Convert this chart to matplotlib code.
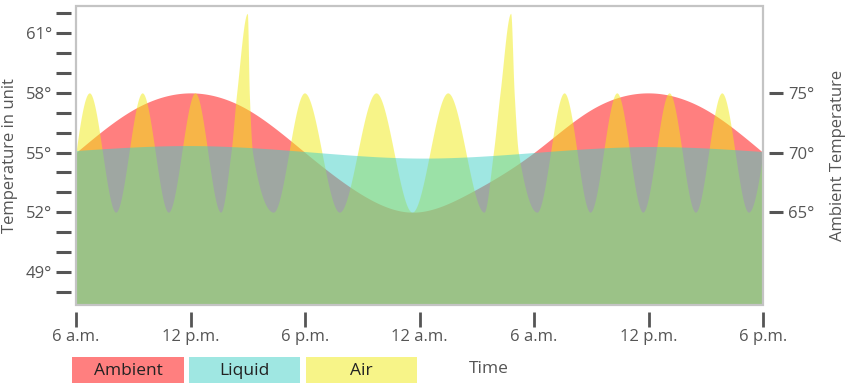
import numpy as np
import matplotlib
matplotlib.use("Agg")
import matplotlib.pyplot as plt
from matplotlib.patches import Rectangle
from matplotlib.ticker import FixedLocator, FixedFormatter, NullFormatter

plt.rcParams['font.family'] = ['Open Sans', 'DejaVu Sans']

# ---------------- data ----------------
x_tick_hours = [0, 6, 12, 18, 24, 30, 36]
x_tick_labels = ["6 a.m.", "12 p.m.", "6 p.m.", "12 a.m.", "6 a.m.", "12 p.m.", "6 p.m."]

ambient_hours = [0, 3, 6, 9, 12, 14.9, 17.6, 20.65, 24, 27, 30, 33, 36]
ambient_values = [70, 73.6, 75, 73.6, 70, 66.55, 65, 66.63, 70, 73.6, 75, 73.6, 70]

liquid_hours = [0, 6, 12, 18, 24, 30, 36]
liquid_values = [55.1, 55.35, 55.05, 54.72, 55.0, 55.3, 55.05]

air_hours = [0.00, 0.70, 2.08, 3.47, 4.84, 6.24, 7.58,
             8.12, 8.42, 8.98, 9.08, 9.25,
             10.34, 11.97, 13.80, 15.72, 17.61, 19.48, 21.38,
             21.87, 22.22, 22.78, 22.96, 23.18,
             24.15, 25.58, 26.94, 28.34, 29.70, 31.08, 32.46, 33.84, 35.24, 36.00]
air_values = [55, 58, 52, 58, 52, 58, 52,
              55, 58, 62, 58, 55,
              52, 58, 52, 58, 52, 58, 52,
              55, 58, 62, 58, 55,
              52, 58, 52, 58, 52, 58, 52, 58, 52, 55]

left_major = [49, 52, 55, 58, 61]
left_major_labels = ["49°", "52°", "55°", "58°", "61°"]
left_minor = [48, 50, 51, 53, 54, 56, 57, 59, 60, 62]
right_major = [65, 70, 75]
right_major_labels = ["65°", "70°", "75°"]

series_names = ["Ambient", "Liquid", "Air"]
ambient_color = "#ff0000"
liquid_color = "#40d0c6"
air_color = "#f1eb13"
ALPHA = 0.5


def hermite(xk, yk, m, n):
    h = np.diff(xk)
    xs = np.linspace(xk[0], xk[-1], n)
    idx = np.clip(np.searchsorted(xk, xs) - 1, 0, len(xk) - 2)
    t = (xs - xk[idx]) / h[idx]
    h00 = 2 * t**3 - 3 * t**2 + 1
    h10 = t**3 - 2 * t**2 + t
    h01 = -2 * t**3 + 3 * t**2
    h11 = t**3 - t**2
    ys = h00 * yk[idx] + h10 * h[idx] * m[idx] + h01 * yk[idx + 1] + h11 * h[idx] * m[idx + 1]
    return xs, ys


def pchip(xk, yk, n=2400):
    """Monotone cubic rendering (keeps the sharp spikes without overshoot)."""
    xk = np.asarray(xk, float)
    yk = np.asarray(yk, float)
    h = np.diff(xk)
    d = np.diff(yk) / h
    m = np.zeros_like(yk)
    for k in range(1, len(xk) - 1):
        if d[k - 1] * d[k] > 0:
            w1 = 2 * h[k] + h[k - 1]
            w2 = h[k] + 2 * h[k - 1]
            m[k] = (w1 + w2) / (w1 / d[k - 1] + w2 / d[k])

    def end(h0, h1, d0, d1):
        s = ((2 * h0 + h1) * d0 - h0 * d1) / (h0 + h1)
        if np.sign(s) != np.sign(d0):
            s = 0.0
        elif np.sign(d0) != np.sign(d1) and abs(s) > abs(3 * d0):
            s = 3 * d0
        return s

    m[0] = end(h[0], h[1], d[0], d[1])
    m[-1] = end(h[-1], h[-2], d[-1], d[-2])
    return hermite(xk, yk, m, n)


def natural_spline(xk, yk, n=2400):
    """Smooth natural cubic spline rendering."""
    xk = np.asarray(xk, float)
    yk = np.asarray(yk, float)
    N = len(xk)
    h = np.diff(xk)
    A = np.zeros((N, N))
    rhs = np.zeros(N)
    A[0, 0] = A[-1, -1] = 1.0
    for i in range(1, N - 1):
        A[i, i - 1] = h[i - 1]
        A[i, i] = 2 * (h[i - 1] + h[i])
        A[i, i + 1] = h[i]
        rhs[i] = 3 * ((yk[i + 1] - yk[i]) / h[i] - (yk[i] - yk[i - 1]) / h[i - 1])
    c = np.linalg.solve(A, rhs)
    b = (yk[1:] - yk[:-1]) / h - h * (2 * c[:-1] + c[1:]) / 3
    dd = (c[1:] - c[:-1]) / (3 * h)
    xs = np.linspace(xk[0], xk[-1], n)
    idx = np.clip(np.searchsorted(xk, xs) - 1, 0, N - 2)
    t = xs - xk[idx]
    ys = yk[idx] + b[idx] * t + c[idx] * t**2 + dd[idx] * t**3
    return xs, ys


W, H = 848, 387
fig = plt.figure(figsize=(W / 100, H / 100), dpi=100)

L, R, T, B = 76, 763, 6, 305
ax_amb = fig.add_axes([L / W, 1 - B / H, (R - L) / W, (B - T) / H])
ax = ax_amb.twinx()

left_lim = (47.33, 62.37)
right_lim = tuple(70 + (v - 55) * 5 / 3 for v in left_lim)
ax.set_ylim(*left_lim)
ax_amb.set_ylim(*right_lim)
ax_amb.set_xlim(0, 36)

# areas: ambient (bottom), air, liquid (top)
xs, ys = natural_spline(ambient_hours, ambient_values)
ax_amb.fill_between(xs, ys, right_lim[0], color=ambient_color, alpha=ALPHA, lw=0)
xs, ys = pchip(air_hours, air_values)
ax.fill_between(xs, ys, left_lim[0], color=air_color, alpha=ALPHA, lw=0)
xs, ys = natural_spline(liquid_hours, liquid_values)
ax.fill_between(xs, ys, left_lim[0], color=liquid_color, alpha=ALPHA, lw=0)

# frame
ax.add_patch(Rectangle((0, 0), 1, 1, transform=ax.transAxes, fill=False,
                       edgecolor="#c4c4c4", lw=1.6, zorder=10, clip_on=False))

for a in (ax, ax_amb):
    for s in a.spines.values():
        s.set_visible(False)

tick_col = "#555555"
text_col = "#555555"
TICK_FS = 12

# left axis (liquid / air)
ax.yaxis.tick_left()
ax.yaxis.set_label_position("left")
ax.spines['left'].set_position(('outward', 3.6))
ax.yaxis.set_major_locator(FixedLocator(left_major))
ax.yaxis.set_major_formatter(FixedFormatter(left_major_labels))
ax.yaxis.set_minor_locator(FixedLocator(left_minor))
ax.yaxis.set_minor_formatter(NullFormatter())
ax.tick_params(axis='y', which='both', length=10.8, width=2.2, color=tick_col,
               labelsize=TICK_FS, labelcolor=text_col, pad=3.0, direction='out')
ax.set_ylabel("Temperature in unit", fontsize=12, color=text_col)
ax.yaxis.set_label_coords(-0.096, 0.5)
ax.yaxis.label.set_va('center')

# right axis (ambient)
ax_amb.yaxis.tick_right()
ax_amb.yaxis.set_label_position("right")
ax_amb.spines['right'].set_position(('outward', 4.3))
ax_amb.yaxis.set_major_locator(FixedLocator(right_major))
ax_amb.yaxis.set_major_formatter(FixedFormatter(right_major_labels))
ax_amb.tick_params(axis='y', which='major', length=10.4, width=2.2, color=tick_col,
                   labelsize=TICK_FS, labelcolor=text_col, pad=3.4, direction='out')
ax_amb.set_ylabel("Ambient Temperature", fontsize=12, color=text_col, rotation=90)
ax_amb.yaxis.set_label_coords(1.109, 0.5)
ax_amb.yaxis.label.set_va('center')

# x axis
ax_amb.spines['bottom'].set_position(('outward', 5))
ax_amb.xaxis.set_major_locator(FixedLocator(x_tick_hours))
ax_amb.xaxis.set_major_formatter(FixedFormatter(x_tick_labels))
ax_amb.tick_params(axis='x', length=10.8, width=2.0, color=tick_col,
                   labelsize=TICK_FS, labelcolor=text_col, pad=1.2, direction='out')
ax.tick_params(axis='x', which='both', bottom=False, top=False, labelbottom=False)
ax_amb.set_xlabel("Time", fontsize=12.5, color=text_col)
ax_amb.xaxis.set_label_coords((488.7 - L) / (R - L), (B - 369) / (B - T))
ax_amb.xaxis.label.set_va('center')

# legend boxes
boxes = [(72.3, 184.0), (189.0, 300.0), (305.7, 416.7)]
colors = [ambient_color, liquid_color, air_color]
for (x0, x1), name, c in zip(boxes, series_names, colors):
    fig.add_artist(Rectangle((x0 / W, 1 - 383.3 / H), (x1 - x0) / W, 26.6 / H,
                             transform=fig.transFigure, facecolor=c, alpha=ALPHA, lw=0))
    fig.text((x0 + x1) / 2 / W, 1 - 371 / H, name, ha='center', va='center',
             fontsize=12.5, color="#222222")

fig.savefig("out.png", dpi=100)
